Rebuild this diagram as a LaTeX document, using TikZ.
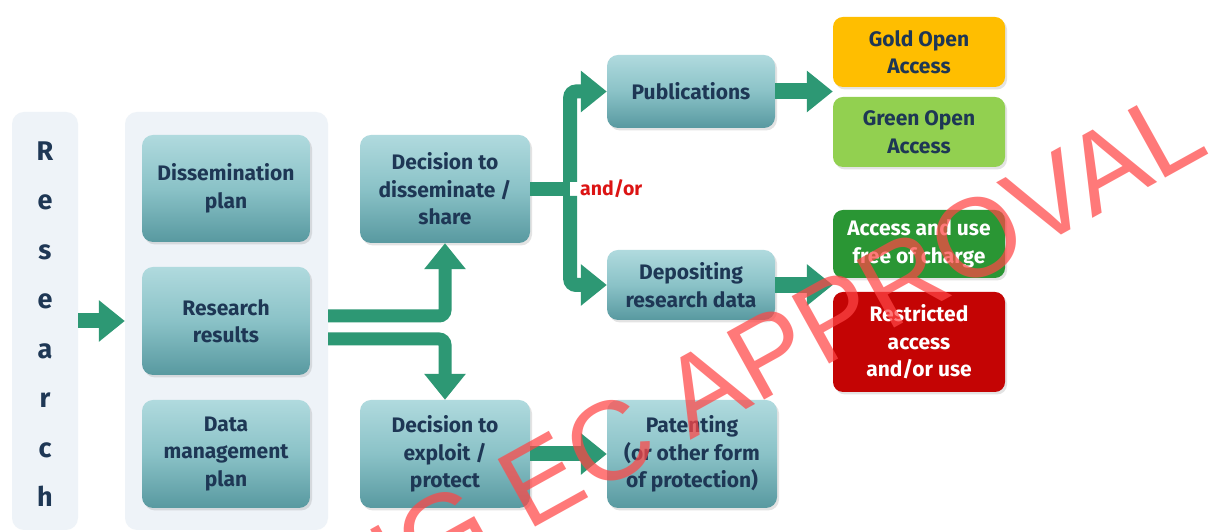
\documentclass[tikz,border=0pt]{standalone}
\usepackage{fontspec}
\setmainfont{Fira Sans}
\newfontfamily\wmfont{Liberation Sans}
\usetikzlibrary{arrows.meta,shadows,calc}
\definecolor{arrowgreen}{RGB}{45,152,116}
\definecolor{boxtop}{RGB}{176,218,222}
\definecolor{boxmid}{RGB}{138,194,199}
\definecolor{boxbot}{RGB}{88,153,160}
\definecolor{panelbg}{RGB}{238,243,248}
\definecolor{navy}{RGB}{30,55,85}
\definecolor{goldbox}{RGB}{255,190,0}
\definecolor{greenbox}{RGB}{146,208,80}
\definecolor{freebox}{RGB}{42,150,52}
\definecolor{redbox}{RGB}{196,4,4}
\definecolor{andorred}{RGB}{220,20,20}
\definecolor{wmred}{RGB}{255,70,70}
\begin{document}
\begin{tikzpicture}[x=1pt,y=1pt,
  panel/.style={rounded corners=12pt, fill=panelbg, draw=none},
  box/.style={rounded corners=11pt, top color=boxtop, bottom color=boxbot, middle color=boxmid,
    draw=none, text=navy, font=\bfseries\fontsize{21}{27.5}\selectfont, align=center,
    minimum width=170pt, minimum height=108pt, inner sep=2pt,
    drop shadow={opacity=0.22, shadow xshift=2pt, shadow yshift=-2.5pt}},
  flatbox/.style={rounded corners=10pt, draw=none, font=\bfseries\fontsize{21}{27.5}\selectfont,
    align=center, minimum width=172pt, minimum height=70pt, inner sep=2pt,
    drop shadow={opacity=0.22, shadow xshift=2pt, shadow yshift=-2.5pt}},
  bigarrow/.style={draw=arrowgreen, line width=14pt, rounded corners=6pt,
    -{Triangle[length=26pt 0 0, width=40pt 0 0]}},
  plainline/.style={draw=arrowgreen, line width=14pt, rounded corners=6pt},
  wm/.style={text=wmred, text opacity=0.72, font=\wmfont\fontsize{112}{112}\selectfont, inner sep=0pt}
]
\useasboundingbox (0,0) rectangle (1211,532);
\fill[white] (0,0) rectangle (1211,532);

% panels
\node[panel, minimum width=66pt, minimum height=418pt] (researchbg) at (45,211) {};
\node[panel, minimum width=203pt, minimum height=418pt] (container) at (226.5,211) {};
\node[text=navy, font=\bfseries\fontsize{27}{49.5}\selectfont, align=center, inner sep=0pt]
  (researchword) at (45,208) {R\\e\\s\\e\\a\\r\\c\\h};

% left column boxes
\node[box, minimum width=168pt, minimum height=107pt] (dissplan) at (226,343.5) {Dissemination\\plan};
\node[box, minimum width=168pt] (results) at (226,211) {Research\\results};
\node[box, minimum width=168pt] (dmp) at (226,78) {Data\\management\\plan};

% decisions
\node[box] (decdiss) at (445,343) {Decision to\\disseminate /\\share};
\node[box] (decexp) at (445,78) {Decision to\\exploit /\\protect};

% outputs
\node[box, minimum width=168pt, minimum height=73pt] (pub) at (691,440.5) {Publications};
\node[box, minimum width=168pt, minimum height=70pt] (dep) at (691,247) {Depositing\\research data};
\node[box] (patent) at (692,78) {Patenting\\(or other form\\of protection)};

% access boxes
\node[flatbox, fill=goldbox, text=navy] (gold) at (919,480) {Gold Open\\Access};
\node[flatbox, fill=greenbox, text=navy] (green) at (919,400) {Green Open\\Access};
\node[flatbox, fill=freebox, text=white, minimum height=68pt] (free) at (919,288) {Access and use\\free of charge};
\node[flatbox, fill=redbox, text=white, minimum height=100pt] (restricted) at (919,190) {Restricted\\access\\and/or use};

% connectors
\draw[bigarrow, line width=15pt] (researchbg.east |- results.center) -- (container.west |- results.center);
\draw[bigarrow, line width=13pt] ([yshift=5pt]container.east) -| (decdiss.south);
\draw[bigarrow, line width=13pt] ([yshift=-18pt]container.east) -| (decexp.north);

\coordinate (branch) at ($(decdiss.east)+(40,0)$);
\draw[plainline, line width=14pt] (decdiss.east) -- (branch);
\draw[bigarrow, line width=14pt] ([yshift=7pt]branch) |- (pub.west);
\draw[bigarrow, line width=14pt] ([yshift=-7pt]branch) |- (dep.west);
\node[text=andorred, font=\bfseries\fontsize{19.5}{19.5}\selectfont, anchor=west, inner sep=0pt]
  (andor) at (580,343) {and/or};

\draw[bigarrow, line width=16pt] (pub.east) -- (pub.east -| gold.west);
\draw[bigarrow, line width=16pt] (dep.east) -- (dep.east -| free.west);
\draw[bigarrow, line width=15pt] (decexp.east) -- (patent.west);

% watermark
\begin{scope}
\clip (0,0) rectangle (1211,532);
\node[wm, rotate=29, anchor=base east] (watermark) at (1212,380) {PENDING EC APPROVAL};
\end{scope}
\end{tikzpicture}
\end{document}
